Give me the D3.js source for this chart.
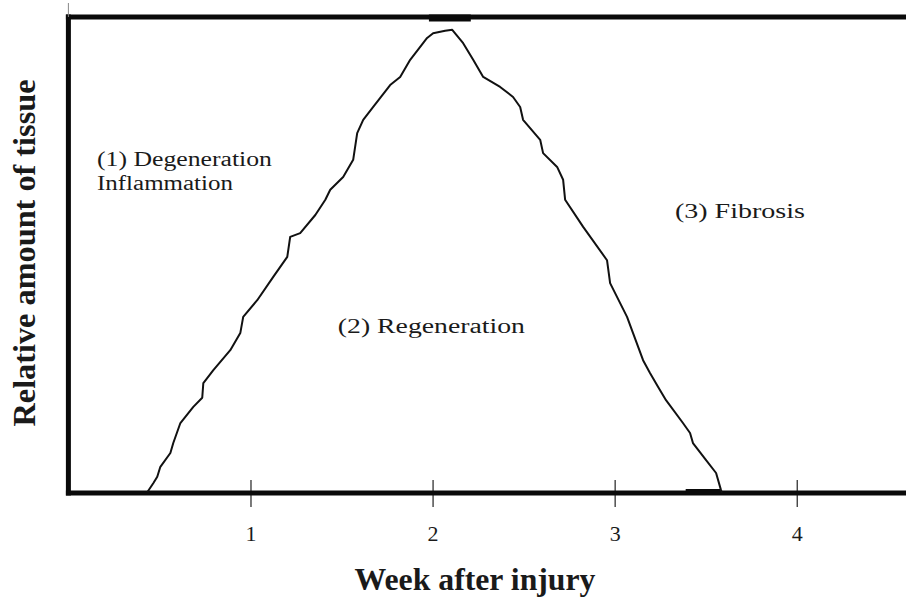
<!DOCTYPE html>
<html lang="en">
<head>
  <meta charset="UTF-8">
  <title>Relative amount of tissue after injury</title>
  <script src="https://d3js.org/d3.v7.min.js"></script>
  <style>
    body { margin: 0; background: #fff; }
    svg { display: block; }
    text { font-family: "Liberation Serif", "Times New Roman", serif; fill: #1a1a1a; }
    .frame { stroke: #0a0a0a; stroke-width: 5px; stroke-linecap: square; }
    .curve { fill: none; stroke: #111; stroke-width: 2px; stroke-linejoin: round; }
    .x-axis .tick line { stroke: #333; stroke-width: 1.3px; }
    .x-axis .tick text { font-size: 22px; }
  </style>
</head>
<body>
  <svg></svg>
  <script>
    // week after injury / relative amount of tissue
    const weeks = [
      0.434, 0.467, 0.488, 0.505, 0.560, 0.576, 0.615, 0.686, 0.735, 0.741,
      0.796, 0.889, 0.944, 0.960, 1.037, 1.125, 1.202, 1.218, 1.273, 1.356,
      1.411, 1.438, 1.509, 1.564, 1.586, 1.619, 1.674, 1.767, 1.822, 1.877,
      1.970, 2.003, 2.069, 2.108, 2.168, 2.223, 2.278, 2.371, 2.442, 2.481,
      2.497, 2.591, 2.607, 2.684, 2.717, 2.728, 2.827, 2.958, 2.975, 3.068,
      3.101, 3.156, 3.194, 3.238, 3.282, 3.375, 3.414, 3.430, 3.502, 3.557,
      3.584, 3.589
    ];
    const tissue = [
      0.002, 0.021, 0.034, 0.055, 0.084, 0.105, 0.147, 0.181, 0.200, 0.231,
      0.258, 0.300, 0.336, 0.370, 0.405, 0.454, 0.496, 0.538, 0.546, 0.584,
      0.616, 0.637, 0.664, 0.700, 0.756, 0.784, 0.811, 0.857, 0.874, 0.910,
      0.956, 0.966, 0.971, 0.973, 0.945, 0.910, 0.874, 0.853, 0.832, 0.811,
      0.784, 0.742, 0.714, 0.685, 0.658, 0.616, 0.559, 0.489, 0.441, 0.370,
      0.336, 0.279, 0.252, 0.223, 0.195, 0.147, 0.126, 0.105, 0.069, 0.042,
      0.006, 0.000
    ];
    const tickWeeks = [1, 2, 3, 4];
    const phaseLabels = ["(1) Degeneration", "Inflammation", "(2) Regeneration", "(3) Fibrosis"];
    const xTitle = "Week after injury";
    const yTitle = "Relative amount of tissue";

    const width = 906, height = 599;
    const svg = d3.select("svg").attr("width", width).attr("height", height);

    const x = d3.scaleLinear().domain([0, 4.6]).range([68.4, 906]);
    const y = d3.scaleLinear().domain([0, 1]).range([493, 17]);

    // x axis: ticks cross the thick baseline
    const xAxis = svg.append("g")
        .attr("class", "x-axis")
        .attr("transform", `translate(0,${y(0)})`)
        .call(d3.axisBottom(x).tickValues(tickWeeks).tickFormat(d3.format("d")).tickSizeOuter(0));
    xAxis.select(".domain").remove();
    xAxis.selectAll(".tick line").attr("y1", -13).attr("y2", 14);
    xAxis.selectAll(".tick text").attr("y", 48).attr("dy", null);

    // frame: left, top, bottom
    svg.append("line").attr("class", "frame")
        .attr("x1", x(0)).attr("x2", x(0)).attr("y1", y(1)).attr("y2", y(0));
    svg.append("line").attr("class", "frame")
        .attr("x1", x(0)).attr("x2", width).attr("y1", y(1)).attr("y2", y(1));
    svg.append("line").attr("class", "frame")
        .attr("x1", x(0)).attr("x2", width).attr("y1", y(0)).attr("y2", y(0));
    // little stub above the corner and the heavier bits on the frame
    svg.append("line")
        .attr("x1", x(0)).attr("x2", x(0)).attr("y1", 3).attr("y2", y(1))
        .attr("stroke", "#888").attr("stroke-width", 1);
    svg.append("line")
        .attr("x1", x(1.98)).attr("x2", x(2.21)).attr("y1", y(1) + 1).attr("y2", y(1) + 1)
        .attr("stroke", "#0a0a0a").attr("stroke-width", 7);
    svg.append("line")
        .attr("x1", x(3.39)).attr("x2", x(3.58)).attr("y1", y(0) - 1).attr("y2", y(0) - 1)
        .attr("stroke", "#0a0a0a").attr("stroke-width", 6);

    const line = d3.line()
        .x((d, i) => x(weeks[i]))
        .y(d => y(d));

    svg.append("path")
        .attr("class", "curve")
        .attr("d", line(tissue));

    // phase annotations
    const notes = [
      { text: phaseLabels[0], w: 0.157, v: 0.687, len: 175 },
      { text: phaseLabels[1], w: 0.157, v: 0.637, len: 136 },
      { text: phaseLabels[2], w: 1.480, v: 0.336, len: 187 },
      { text: phaseLabels[3], w: 3.331, v: 0.578, len: 130 }
    ];
    svg.selectAll("text.note")
      .data(notes)
      .join("text")
        .attr("class", "note")
        .attr("x", d => x(d.w))
        .attr("y", d => y(d.v))
        .attr("font-size", 20)
        .attr("textLength", d => d.len)
        .attr("lengthAdjust", "spacingAndGlyphs")
        .text(d => d.text);

    // axis titles
    svg.append("text")
        .attr("x", 475)
        .attr("y", 590)
        .attr("text-anchor", "middle")
        .attr("font-size", 31)
        .attr("font-weight", "bold")
        .attr("textLength", 241)
        .attr("lengthAdjust", "spacingAndGlyphs")
        .text(xTitle);

    svg.append("text")
        .attr("transform", "translate(35,253) rotate(-90)")
        .attr("text-anchor", "middle")
        .attr("font-size", 32)
        .attr("font-weight", "bold")
        .attr("textLength", 347)
        .attr("lengthAdjust", "spacingAndGlyphs")
        .text(yTitle);
  </script>
</body>
</html>
